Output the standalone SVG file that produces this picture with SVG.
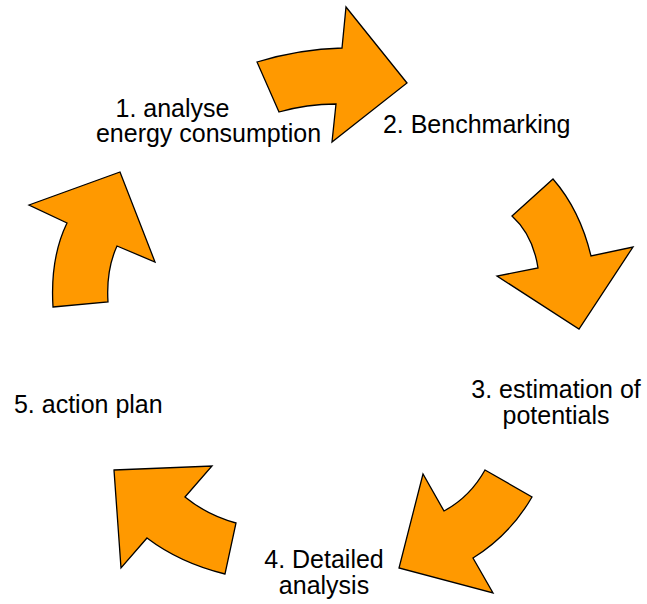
<svg xmlns="http://www.w3.org/2000/svg" width="647" height="604" viewBox="0 0 647 604">
<style>
.arrow{fill:#FF9900;stroke:#000;stroke-width:1.3;stroke-linejoin:miter}
.lbl{font-family:"Liberation Sans",Arial,sans-serif;font-size:25px;fill:#000;text-anchor:middle}
</style>
<rect width="647" height="604" fill="#fff"/>
<g id="connectors">
<path id="arrow1" class="arrow" d="M257,62 Q300,49 342,48 L346,7 L407,83 L332,142 L336,104 Q307,104 279,112 Z"/>
<path id="arrow2" class="arrow" d="M512,216 L553,179 Q580,210 591,256 L633,247 L579,329 L497,276 L538,268 Q533,235 512,216 Z"/>
<path id="arrow3" class="arrow" d="M485,470 L532,497 Q510,535 473,558 L493,593 L399,568 L423,474 L444,511 Q470,497 485,470 Z"/>
<path id="arrow4" class="arrow" d="M114,470 L212,466 L185,497 Q207,515 236,523 L225,574 Q180,563 147,538 L121,568 Z"/>
<path id="arrow5" class="arrow" d="M53,307 L108,302 Q106,270 117,246 L155,262 L120,172 L29,205 L67,223 Q50,258 53,307 Z"/>
</g>
<g id="node1"><text class="lbl" x="172.5" y="117">1. analyse</text><text class="lbl" x="208.5" y="142">energy consumption</text></g>
<g id="node2"><text class="lbl" x="476.7" y="132.5">2. Benchmarking</text></g>
<g id="node3"><text class="lbl" x="556" y="397.5">3. estimation of</text><text class="lbl" x="556" y="423.5">potentials</text></g>
<g id="node4"><text class="lbl" x="324" y="567.5">4. Detailed</text><text class="lbl" x="324" y="594">analysis</text></g>
<g id="node5"><text class="lbl" x="88.3" y="412.5">5. action plan</text></g>
</svg>
